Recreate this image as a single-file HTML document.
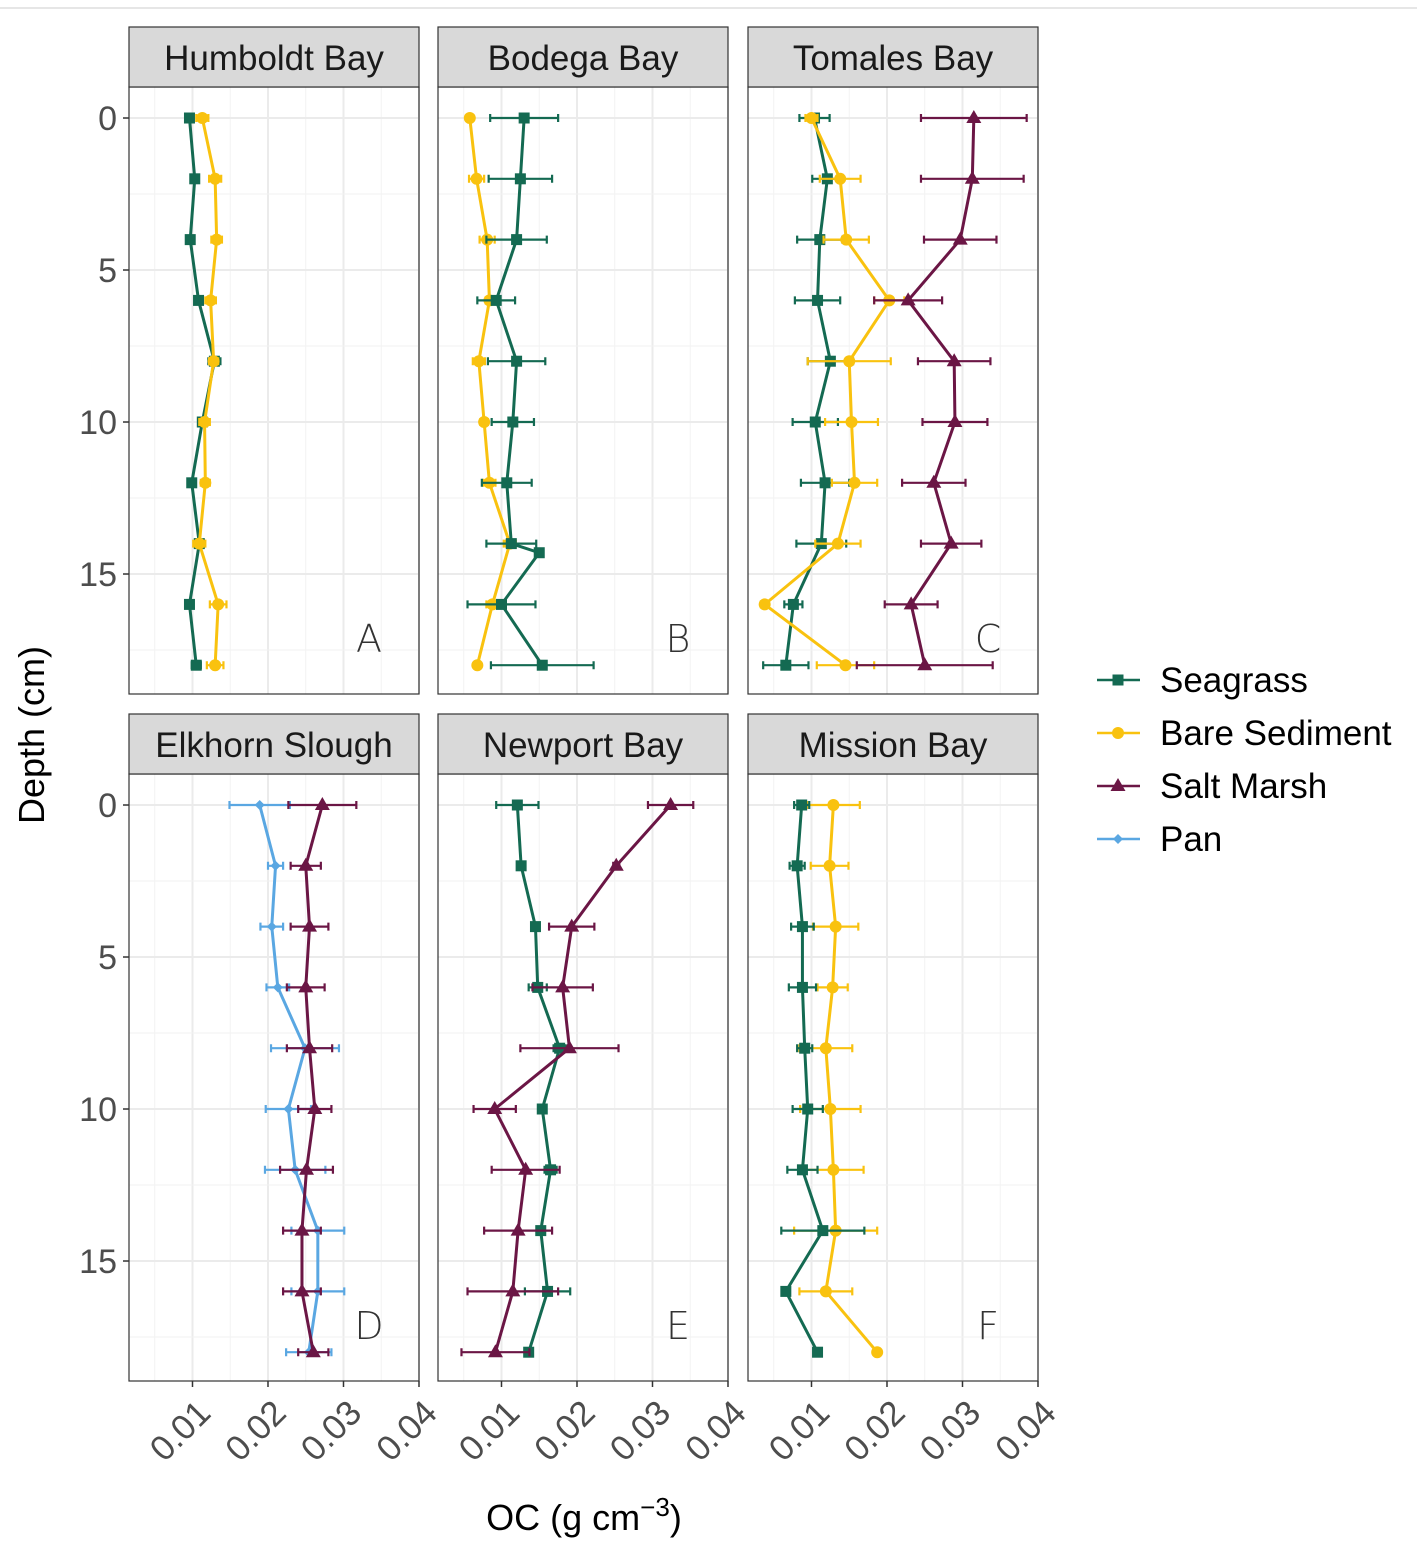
<!DOCTYPE html>
<html><head><meta charset="utf-8"><style>
body{margin:0;background:#fff}
svg{display:block;font-family:"Liberation Sans",sans-serif}
</style></head><body>
<svg id="c" width="1417" height="1553" viewBox="0 0 1417 1553"></svg>
<script>
const depths=[0,2,4,6,8,10,12,14,16,18];
const panelTitles=["Humboldt Bay","Bodega Bay","Tomales Bay","Elkhorn Slough","Newport Bay","Mission Bay"];
const panelLetters=["A","B","C","D","E","F"];
const xTicks=[0.01,0.02,0.03,0.04];
const xTickLabels=["0.01","0.02","0.03","0.04"];
const yTicks=[0,5,10,15];
const seriesNames=["Seagrass","Bare Sediment","Salt Marsh","Pan"];
// Panel A
const aSeagrass=[0.0096,0.0103,0.0097,0.0108,0.0129,0.0113,0.0099,0.0109,0.0096,0.0105];
const aSeagrassErr=[0.0004,0.0005,0.0005,0.0005,0.0008,0.0005,0.0004,0.0006,0.0005,0.0006];
const aBare=[0.0113,0.0130,0.0132,0.0124,0.0128,0.0116,0.0117,0.0109,0.0134,0.0130];
const aBareErr=[0.0008,0.0008,0.0007,0.0007,0.0006,0.0007,0.0006,0.0008,0.0011,0.0011];
// Panel B
const bSeagrassDepths=[0,2,4,6,8,10,12,14,14.3,16,18];
const bSeagrass=[0.0130,0.0125,0.0120,0.0093,0.0120,0.0115,0.0107,0.0113,0.0150,0.0100,0.0154];
const bSeagrassErr=[0.0045,0.0042,0.0040,0.0025,0.0038,0.0028,0.0033,0.0033,0.0005,0.0045,0.0068];
const bBare=[0.0058,0.0067,0.0081,0.0084,0.0070,0.0077,0.0084,0.0111,0.0088,0.0068];
const bBareErr=[0.0004,0.0010,0.0010,0.0005,0.0008,0.0005,0.0008,0.0008,0.0008,0.0004];
// Panel C
const cSeagrass=[0.0104,0.0121,0.0111,0.0108,0.0125,0.0105,0.0118,0.0113,0.0076,0.0066];
const cSeagrassErr=[0.0020,0.0020,0.0030,0.0030,0.0030,0.0030,0.0032,0.0033,0.0012,0.0030];
const cBare=[0.0100,0.0138,0.0146,0.0203,0.0150,0.0153,0.0157,0.0135,0.0038,0.0145];
const cBareErr=[0.0008,0.0027,0.0030,0.0020,0.0055,0.0035,0.0030,0.0030,0.0005,0.0038];
const cMarsh=[0.0315,0.0313,0.0297,0.0228,0.0289,0.0290,0.0262,0.0285,0.0232,0.0250];
const cMarshErr=[0.0070,0.0068,0.0048,0.0045,0.0048,0.0043,0.0042,0.0040,0.0035,0.0090];
// Panel D
const dPan=[0.0189,0.0210,0.0205,0.0213,0.0249,0.0227,0.0236,0.0266,0.0266,0.0254];
const dPanErr=[0.0040,0.0010,0.0015,0.0015,0.0045,0.0030,0.0040,0.0035,0.0035,0.0030];
const dMarsh=[0.0272,0.0250,0.0255,0.0250,0.0255,0.0262,0.0251,0.0245,0.0245,0.0260];
const dMarshErr=[0.0045,0.0020,0.0025,0.0025,0.0030,0.0022,0.0035,0.0025,0.0025,0.0020];
// Panel E
const eSeagrass=[0.0121,0.0126,0.0145,0.0148,0.0177,0.0154,0.0165,0.0152,0.0161,0.0136];
const eSeagrassErr=[0.0028,0.0005,0.0005,0.0012,0.0008,0.0004,0.0008,0.0004,0.0030,0.0005];
const eMarsh=[0.0324,0.0252,0.0193,0.0181,0.0190,0.0091,0.0132,0.0122,0.0115,0.0092];
const eMarshErr=[0.0030,0.0004,0.0030,0.0040,0.0065,0.0028,0.0045,0.0045,0.0060,0.0045];
// Panel F
const fSeagrass=[0.0087,0.0081,0.0088,0.0088,0.0091,0.0095,0.0088,0.0115,0.0066,0.0108];
const fSeagrassErr=[0.0010,0.0010,0.0015,0.0018,0.0010,0.0020,0.0020,0.0055,0.0004,0.0004];
const fBare=[0.0129,0.0124,0.0132,0.0128,0.0119,0.0125,0.0129,0.0132,0.0119,0.0187];
const fBareErr=[0.0035,0.0025,0.0030,0.0020,0.0035,0.0040,0.0040,0.0055,0.0035,0.0004];

const COL={Seagrass:"#146a52","Bare Sediment":"#f9c20f","Salt Marsh":"#6b1645",Pan:"#5aa7e2"};
const panelData=[
 [["Seagrass",depths,aSeagrass,aSeagrassErr],["Bare Sediment",depths,aBare,aBareErr]],
 [["Bare Sediment",depths,bBare,bBareErr],["Seagrass",bSeagrassDepths,bSeagrass,bSeagrassErr]],
 [["Seagrass",depths,cSeagrass,cSeagrassErr],["Bare Sediment",depths,cBare,cBareErr],["Salt Marsh",depths,cMarsh,cMarshErr]],
 [["Pan",depths,dPan,dPanErr],["Salt Marsh",depths,dMarsh,dMarshErr]],
 [["Seagrass",depths,eSeagrass,eSeagrassErr],["Salt Marsh",depths,eMarsh,eMarshErr]],
 [["Bare Sediment",depths,fBare,fBareErr],["Seagrass",depths,fSeagrass,fSeagrassErr]]
];
const svg=document.getElementById('c');
const NS="http://www.w3.org/2000/svg";
function mk(tag,attrs,parent){const e=document.createElementNS(NS,tag);for(const k in attrs)e.setAttribute(k,attrs[k]);(parent||svg).appendChild(e);return e;}
const colX=[129,438,748], panW=290;
const rowStrip=[27,714], rowTop=[87,774], panH=607;
const X0=0.00159, XPX=7550;
const D0=-1.02, DPX=30.4;
mk('line',{x1:0,y1:8,x2:1417,y2:8,stroke:'#ccc','stroke-width':1});
function marker(g,name,x,y){
  const c=COL[name];let m;
  if(name==="Seagrass") m=mk('rect',{x:x-5.5,y:y-5.5,width:11,height:11,fill:c},g);
  else if(name==="Bare Sediment") m=mk('circle',{cx:x,cy:y,r:6,fill:c},g);
  else if(name==="Salt Marsh") m=mk('polygon',{points:`${x},${y-8} ${x+7.5},${y+5} ${x-7.5},${y+5}`,fill:c},g);
  else m=mk('polygon',{points:`${x},${y-5} ${x+5},${y} ${x},${y+5} ${x-5},${y}`,fill:c},g);
  
  
}
for(let p=0;p<6;p++){
  const L=colX[p%3], T=rowTop[Math.floor(p/3)], S=rowStrip[Math.floor(p/3)];
  const xs=v=>L+(v-X0)*XPX, ys=d=>T+(d-D0)*DPX;
  const g=mk('g',{});
  
  
  mk('rect',{x:L,y:T,width:panW,height:panH,fill:'#fff'},g);
  for(let i=0;i<xTicks.length;i++){
    const xm=xs(xTicks[i]-0.005); if(xm>L) mk('line',{x1:xm,y1:T,x2:xm,y2:T+panH,stroke:'#f2f2f2','stroke-width':1},g);
    mk('line',{x1:xs(xTicks[i]),y1:T,x2:xs(xTicks[i]),y2:T+panH,stroke:'#ebebeb','stroke-width':2},g);
  }
  for(const t of yTicks){
    mk('line',{x1:L,y1:ys(t+2.5),x2:L+panW,y2:ys(t+2.5),stroke:'#f2f2f2','stroke-width':1},g);
    mk('line',{x1:L,y1:ys(t),x2:L+panW,y2:ys(t),stroke:'#ebebeb','stroke-width':2},g);
  }
  for(const [name,dd,vals,err] of panelData[p]){
    const c=COL[name];
    const pts=vals.map((v,i)=>xs(v)+','+ys(dd[i])).join(' ');
    const ln=mk('polyline',{points:pts,fill:'none',stroke:c,'stroke-width':3},g);
    
    
    vals.forEach((v,i)=>{
      const y=ys(dd[i]),x1=xs(v-err[i]),x2=xs(v+err[i]);
      mk('path',{d:`M${x1},${y}H${x2}M${x1},${y-4}V${y+4}M${x2},${y-4}V${y+4}`,stroke:c,'stroke-width':2.2,fill:'none'},g);
    });
    vals.forEach((v,i)=>marker(g,name,xs(v),ys(dd[i])));
  }
  mk('rect',{x:L,y:T,width:panW,height:panH,fill:'none',stroke:'#333','stroke-width':1.2},g);
  const st=mk('rect',{x:L,y:S,width:panW,height:T-S,fill:'#d9d9d9',stroke:'#333','stroke-width':1.2},g);
  
  const tt=mk('text',{x:L+panW/2,y:S+43,'text-anchor':'middle','font-size':35,fill:'#1a1a1a'},g);
  tt.textContent=panelTitles[p];
  
  const lt=mk('text',{x:L+240,y:T+565,'font-size':38,fill:'#333','text-anchor':'middle','font-family':'"DejaVu Sans",sans-serif','font-weight':'200'},g);
  lt.textContent=panelLetters[p];
  
  if(p%3===0){
    for(const t of yTicks){
      mk('line',{x1:L-6,y1:ys(t),x2:L,y2:ys(t),stroke:'#333','stroke-width':1.5},g);
      const yl=mk('text',{x:L-12,y:ys(t)+12,'text-anchor':'end','font-size':34,fill:'#4d4d4d'},g);
      yl.textContent=t;
      
    }
  }
  if(p>=3){
    xTicks.forEach((t,i)=>{
      const x=xs(t);
      mk('line',{x1:x,y1:T+panH,x2:x,y2:T+panH+6,stroke:'#333','stroke-width':1.5},g);
      const xl=mk('text',{transform:`translate(${x+20},${T+panH+34}) rotate(-45)`,'text-anchor':'end','font-size':35,fill:'#4d4d4d'},g);
      xl.textContent=xTickLabels[i];
      
    });
  }
}
const yt=mk('text',{transform:'translate(44,735) rotate(-90)','text-anchor':'middle','font-size':36,fill:'#000'});
yt.textContent='Depth (cm)';

const xt=mk('text',{x:584,y:1530,'text-anchor':'middle','font-size':36,fill:'#000'});
xt.innerHTML='OC (g cm<tspan dy="-14" font-size="26">−3</tspan><tspan dy="14">)</tspan>';

seriesNames.forEach((n,i)=>{
  const y=680+i*53;
  const g=mk('g',{});
  
  
  mk('line',{x1:1097,y1:y,x2:1140,y2:y,stroke:COL[n],'stroke-width':2.5},g);
  marker(g,n,1118,y);
  const t=mk('text',{x:1160,y:y+12,'font-size':35,fill:'#000'},g);
  t.textContent=n;
});
</script>
</body></html>
